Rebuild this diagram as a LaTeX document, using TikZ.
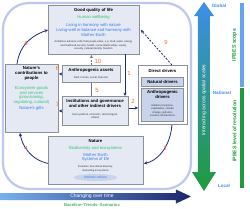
\documentclass[tikz,border=0pt]{standalone}
\usepackage{fontspec}
\setmainfont{Liberation Sans}
\usetikzlibrary{arrows.meta,shapes.geometric}
\definecolor{navy}{HTML}{1F2A78}
\definecolor{lab}{HTML}{F26B2B}
\definecolor{boxfill}{HTML}{E4E9F4}
\definecolor{innerfill}{HTML}{C9D3EC}
\definecolor{boxline}{HTML}{8C9099}
\definecolor{grn}{HTML}{33C47A}
\definecolor{blu}{HTML}{3579EE}
\definecolor{frame}{HTML}{BCC8EC}
\definecolor{dgreen}{HTML}{1E9B3C}
\definecolor{sky}{HTML}{3D8FE8}
\definecolor{slate}{HTML}{6A7898}
\tikzset{
  box/.style={draw=boxline, fill=boxfill, line width=0.9pt, inner sep=0pt, anchor=north west},
  inner/.style={draw=boxline, fill=innerfill, line width=0.7pt, inner sep=0pt, anchor=north west},
  ttl/.style={font=\fontsize{4.3}{5}\selectfont\bfseries, text=black, inner sep=0pt, align=center},
  gtxt/.style={font=\fontsize{4.2}{4.8}\selectfont, text=grn, inner sep=0pt, align=center},
  btxt/.style={font=\fontsize{4.2}{4.8}\selectfont, text=blu, inner sep=0pt, align=center},
  small/.style={font=\fontsize{2.6}{3.5}\selectfont, text=black!80, inner sep=0pt, align=center},
  num/.style={font=\fontsize{6}{7}\selectfont, text=lab, inner sep=0pt},
  arr/.style={draw=navy, line width=0.8pt, -{Stealth[length=3.4pt,width=3.2pt]}},
  darr/.style={arr, dashed, dash pattern=on 2pt off 1.5pt},
  scalelab/.style={font=\fontsize{4.6}{5.4}\selectfont\bfseries, text=sky, inner sep=0pt},
  vlab/.style={font=\fontsize{5.2}{6}\selectfont\bfseries, text=dgreen, inner sep=0pt, rotate=90}
}
\begin{document}
\begin{tikzpicture}[x=1pt,y=-1pt]
\useasboundingbox (0,0) rectangle (250,209);
% outer frame
\draw[frame, line width=2.2pt, rounded corners=26pt] (3,3) rectangle (191,189);

% Good quality of life
\node[box, minimum width=91pt, minimum height=49pt] (gql) at (48,5) {};
\node[ttl] (gqlt) at (93.5,10.5) {Good quality of life};
\node[gtxt] (gqlg) at (93.5,17.5) {Human wellbeing};
\node[btxt] (gqlb) at (93.5,30) {Living in harmony with nature\\Living-well in balance and harmony with\\Mother Earth};
\node[small] (gqls) at (93.5,45.5) {Ambitions advance a life that people value, e.g. food, water, energy\\and livelihood security, health, social relationships, equity,\\security, cultural identity, freedom};

% Nature's contributions to people
\node[box, minimum width=53pt, minimum height=68pt] (ncp) at (5,64) {};
\node[ttl] (ncpt) at (31.5,73.5) {Nature's\\contributions to\\people};
\node[gtxt] (ncpg) at (31.5,95.5) {Ecosystem goods\\and services\\(provisioning,\\regulating, cultural)};
\node[btxt] (ncpb) at (31.5,108.5) {Nature's gifts};

% Anthropogenic assets
\node[box, minimum width=58pt, minimum height=17pt] (anth) at (62,65) {};
\node[ttl] (antht) at (91,70.5) {Anthropogenic assets};
\node[small] (anths) at (91,77.5) {Built, human, social, financial};

% Institutions
\node[box, minimum width=66pt, minimum height=29pt] (inst) at (62,96) {};
\node[ttl] (instt) at (95,103.5) {Institutions and governance\\and other indirect drivers};
\node[small] (insts) at (95,116) {Socio-political, economic, technological,\\cultural};

% Direct drivers
\node[box, fill=white, minimum width=49pt, minimum height=59pt] (dd) at (138,65) {};
\node[ttl] (ddt) at (162.5,71) {Direct drivers};
\node[inner, minimum width=42pt, minimum height=9pt] (nd) at (141.5,77) {};
\node[ttl] (ndt) at (162.5,81.5) {Natural drivers};
\node[inner, minimum width=42pt, minimum height=33pt] (ad) at (141.5,88) {};
\node[ttl] (adt) at (162.5,94.5) {Anthropogenic\\drivers};
\node[small] (ads) at (162.5,110.5) {Habitat conversion,\\exploitation, climate\\change, pollution,\\invasive introductions};

% Nature
\node[box, minimum width=95pt, minimum height=48pt] (nat) at (48,136) {};
\node[ttl] (natt) at (95.5,141) {Nature};
\node[gtxt] (natg) at (95.5,148) {Biodiversity and ecosystems};
\node[btxt] (natb) at (95.5,157.5) {Mother Earth\\Systems of life};
\node[small] (nats) at (95.5,169) {Evolution, biocultural diversity,\\interacting ecosystems};
\node[ellipse, fill=innerfill, inner sep=0pt, minimum width=44pt, minimum height=7pt, font=\fontsize{3.4}{4}\selectfont, text=blu] (iv) at (95.5,177.5) {Intrinsic values};

% connectors
\draw[arr] ([xshift=12pt]ncp.north west) .. controls +(3,-22) and +(-12,4) .. (gql.west);
\draw[darr, draw=slate] (anth.north) -- (anth.north |- gql.south);
\draw[darr] ([xshift=9pt]dd.north) -- ([xshift=1pt]gql.east);
\draw[arr] (anth.west) -- (anth.west -| ncp.east);
\draw[arr] (inst.west) -- (inst.west -| ncp.east);
\draw[draw=slate, line width=0.8pt] (anth.south) -- (anth.south |- inst.north);
\coordinate (a1) at (125,54);
\draw[arr] (a1) -- (a1 |- inst.north);
\draw[arr] ([yshift=3pt]inst.east) -- ([yshift=3pt]inst.east -| dd.west);
\draw[arr] ([xshift=9pt]dd.south) .. controls +(-2,24) and +(12,-2) .. ([yshift=-3pt]nat.east);
\draw[arr] ([yshift=-3pt]nat.west) .. controls +(-18,-4) and +(2,12) .. ([xshift=15pt]ncp.south west);

% numbers
\node[num] (n8) at (26,43) {8};
\node[num] (n10) at (98,61) {10};
\node[num] (n9) at (166,42) {9};
\node[num] (n6) at (57.5,68.5) {6};
\node[num] (n1) at (129,73) {1};
\node[num] (n5) at (97,90) {5};
\node[num] (n7) at (57.5,104) {7};
\node[num] (n2) at (133,101) {2};
\node[num] (n3) at (165,148) {3};
\node[num] (n4) at (26,148) {4};

% bottom time arrow
\shade[left color=sky!70!white, right color=navy!90!black]
  (0,193) -- (176,193) -- (176,189.5) -- (191,196.5) -- (176,203.5) -- (176,200) -- (0,200) -- cycle;
\node[font=\fontsize{5}{6}\selectfont, text=white, inner sep=0pt] (cot) at (92,196.5) {Changing over time};
\node[font=\fontsize{4.2}{5}\selectfont\bfseries, text=dgreen!80!white, inner sep=0pt] (bts) at (92,205) {Baseline--Trends--Scenarios};

% vertical scale arrow
\shade[top color=sky, middle color=teal!70!green!80!black, bottom color=dgreen]
  (204,2) -- (214,16) -- (210,16) -- (210,172) -- (216,172) -- (204,191) -- (192,172) -- (198,172) -- (198,16) -- (194,16) -- cycle;
\node[font=\fontsize{5}{6}\selectfont, text=white, inner sep=0pt, rotate=90] (ias) at (204,100) {Interacting across spatial scales};
\node[scalelab] (glob) at (219,5.5) {Global};
\node[scalelab] (natl) at (222,93) {National};
\node[scalelab] (loc) at (224,186) {Local};

% right bars
\fill[sky!80!white] (240,3) rectangle (244,87);
\fill[dgreen] (240,88) rectangle (244,188);
\node[vlab] (scope) at (234.5,45) {IPBES scope};
\node[vlab] (res) at (234.5,131) {IPBES level of resolution};
\end{tikzpicture}
\end{document}
